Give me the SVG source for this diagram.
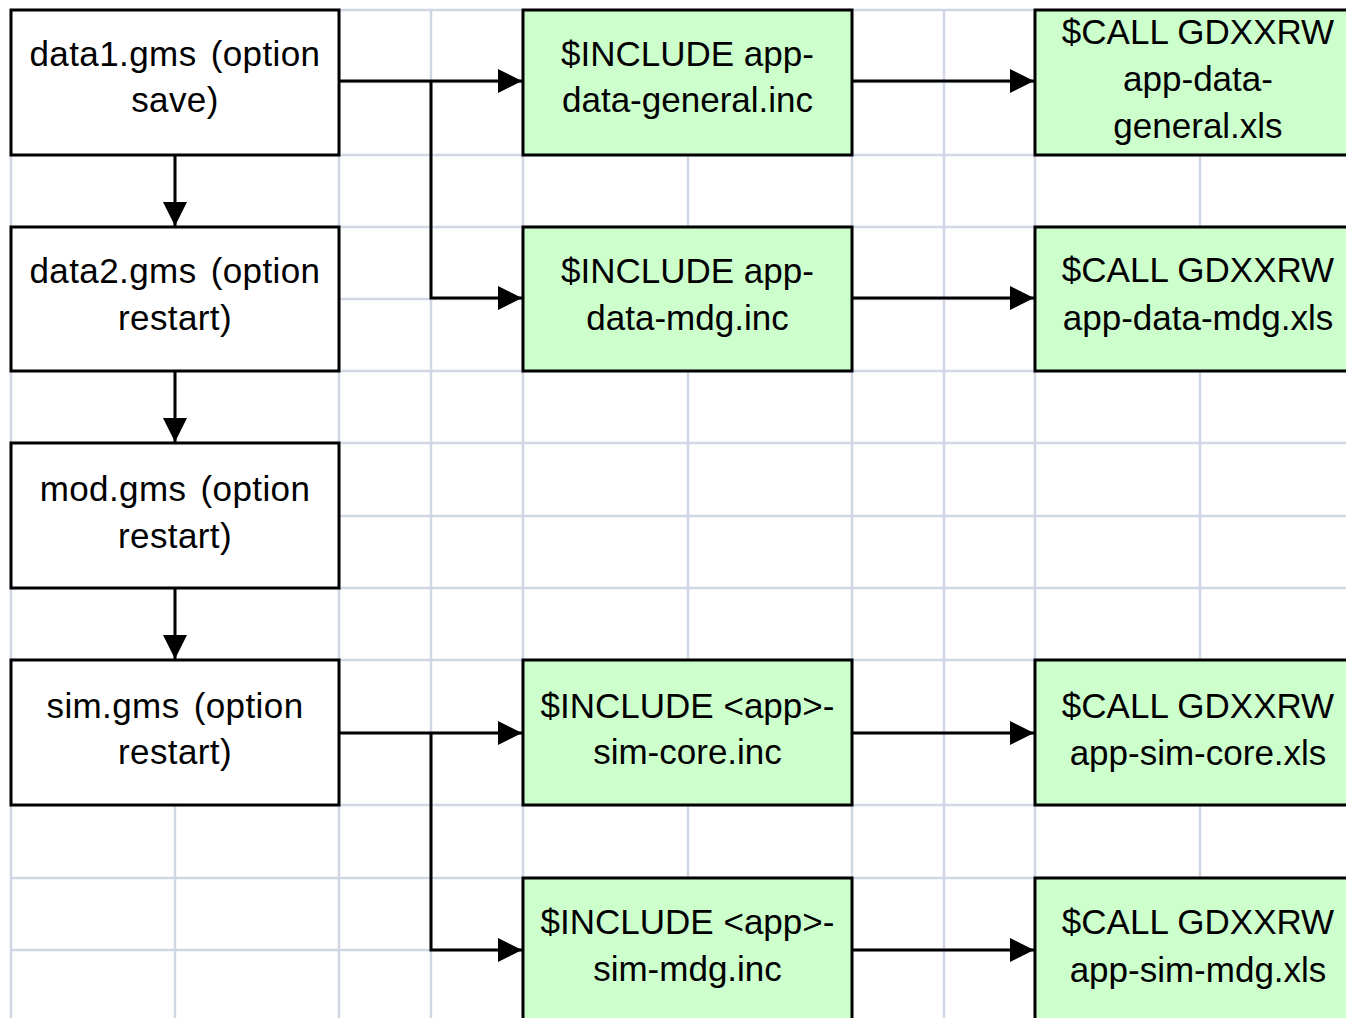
<svg xmlns="http://www.w3.org/2000/svg" width="1346" height="1018" viewBox="0 0 1346 1018">
<style>
.grid line{stroke:#cfd7e5;stroke-width:2.5}
.box{stroke:#000;stroke-width:3}
.w{fill:#fff}
.g{fill:#ccffcc}
text{font-family:"Liberation Sans",Arial,sans-serif;font-size:35px;fill:#000;text-anchor:middle}
.ws text{word-spacing:4px;letter-spacing:0.4px}
.conn path{fill:none;stroke:#000;stroke-width:3}
</style>
<defs>
<marker id="arr" markerUnits="userSpaceOnUse" markerWidth="24" markerHeight="24" viewBox="0 0 23 23" refX="23" refY="11.5" orient="auto">
<path d="M0,0 L23,11.5 L0,23 z" fill="#000"/>
</marker>
</defs>
<rect width="1346" height="1018" fill="#fff"/>
<g class="grid">
<line x1="10" y1="10" x2="1346" y2="10"/>
<line x1="10" y1="82" x2="1346" y2="82"/>
<line x1="10" y1="155" x2="1346" y2="155"/>
<line x1="10" y1="227" x2="1346" y2="227"/>
<line x1="10" y1="299" x2="1346" y2="299"/>
<line x1="10" y1="371" x2="1346" y2="371"/>
<line x1="10" y1="443" x2="1346" y2="443"/>
<line x1="10" y1="516" x2="1346" y2="516"/>
<line x1="10" y1="588" x2="1346" y2="588"/>
<line x1="10" y1="660" x2="1346" y2="660"/>
<line x1="10" y1="733" x2="1346" y2="733"/>
<line x1="10" y1="805" x2="1346" y2="805"/>
<line x1="10" y1="878" x2="1346" y2="878"/>
<line x1="10" y1="950" x2="1346" y2="950"/>
<line x1="11" y1="10" x2="11" y2="1018"/>
<line x1="175" y1="10" x2="175" y2="1018"/>
<line x1="339" y1="10" x2="339" y2="1018"/>
<line x1="431" y1="10" x2="431" y2="1018"/>
<line x1="523" y1="10" x2="523" y2="1018"/>
<line x1="688" y1="10" x2="688" y2="1018"/>
<line x1="852" y1="10" x2="852" y2="1018"/>
<line x1="944" y1="10" x2="944" y2="1018"/>
<line x1="1035" y1="10" x2="1035" y2="1018"/>
<line x1="1200" y1="10" x2="1200" y2="1018"/>
</g>
<g id="data1" class="ws"><rect class="box w" x="11" y="10" width="328" height="145"/><text x="175" y="66">data1.gms (option</text><text x="175" y="112">save)</text></g>
<g id="data2" class="ws"><rect class="box w" x="11" y="227" width="328" height="144"/><text x="175" y="283">data2.gms (option</text><text x="175" y="330">restart)</text></g>
<g id="mod" class="ws"><rect class="box w" x="11" y="443" width="328" height="145"/><text x="175" y="501">mod.gms (option</text><text x="175" y="548">restart)</text></g>
<g id="sim" class="ws"><rect class="box w" x="11" y="660" width="328" height="145"/><text x="175" y="718">sim.gms (option</text><text x="175" y="764">restart)</text></g>
<g id="inc1"><rect class="box g" x="523" y="10" width="329" height="145"/><text x="687.5" y="66">$INCLUDE app-</text><text x="687.5" y="112">data-general.inc</text></g>
<g id="inc2"><rect class="box g" x="523" y="227" width="329" height="144"/><text x="687.5" y="283">$INCLUDE app-</text><text x="687.5" y="330">data-mdg.inc</text></g>
<g id="inc3"><rect class="box g" x="523" y="660" width="329" height="145"/><text x="687.5" y="718">$INCLUDE &lt;app&gt;-</text><text x="687.5" y="764">sim-core.inc</text></g>
<g id="inc4"><rect class="box g" x="523" y="878" width="329" height="160"/><text x="687.5" y="934">$INCLUDE &lt;app&gt;-</text><text x="687.5" y="981">sim-mdg.inc</text></g>
<g id="call1"><rect class="box g" x="1035" y="10" width="340" height="145"/><text x="1198" y="44">$CALL GDXXRW</text><text x="1198" y="91">app-data-</text><text x="1198" y="138">general.xls</text></g>
<g id="call2"><rect class="box g" x="1035" y="227" width="340" height="144"/><text x="1198" y="282">$CALL GDXXRW</text><text x="1198" y="330">app-data-mdg.xls</text></g>
<g id="call3"><rect class="box g" x="1035" y="660" width="340" height="145"/><text x="1198" y="718">$CALL GDXXRW</text><text x="1198" y="765">app-sim-core.xls</text></g>
<g id="call4"><rect class="box g" x="1035" y="878" width="340" height="160"/><text x="1198" y="934">$CALL GDXXRW</text><text x="1198" y="982">app-sim-mdg.xls</text></g>
<g class="conn">
<path d="M339,81 H522" marker-end="url(#arr)"/>
<path d="M431,81 V298 H522" marker-end="url(#arr)"/>
<path d="M852,81 H1034" marker-end="url(#arr)"/>
<path d="M852,298 H1034" marker-end="url(#arr)"/>
<path d="M339,733 H522" marker-end="url(#arr)"/>
<path d="M431,733 V950 H522" marker-end="url(#arr)"/>
<path d="M852,733 H1034" marker-end="url(#arr)"/>
<path d="M852,950 H1034" marker-end="url(#arr)"/>
<path d="M175,155 V226" marker-end="url(#arr)"/>
<path d="M175,371 V442" marker-end="url(#arr)"/>
<path d="M175,588 V659" marker-end="url(#arr)"/>
</g>
</svg>
